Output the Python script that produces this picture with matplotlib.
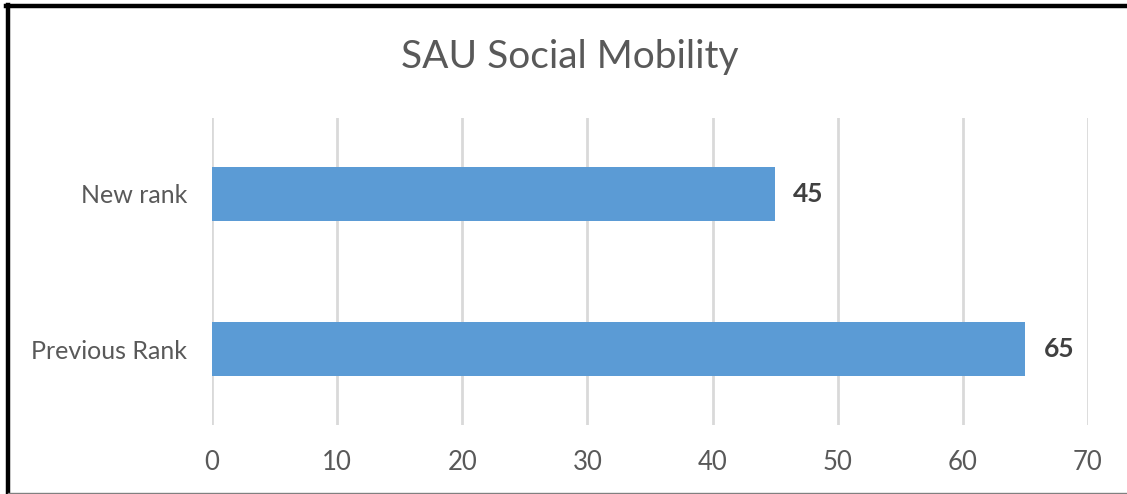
import matplotlib.pyplot as plt
from matplotlib.lines import Line2D

categories = ['Previous Rank', 'New rank']
ranks = [65, 45]
x_ticks = [0, 10, 20, 30, 40, 50, 60, 70]

plt.rcParams['font.family'] = ['Lato', 'DejaVu Sans']

W, H = 1127, 494
fig = plt.figure(figsize=(W / 100, H / 100), dpi=100)
ax = fig.add_axes([212 / W, 1 - 425 / H, (1088 - 212) / W, (425 - 118) / H])

pos = list(range(len(categories)))
bars = ax.barh(pos, ranks, height=0.354, color='#5B9BD5', zorder=3)
for b, v in zip(bars, ranks):
    ax.annotate(str(v), (b.get_width(), b.get_y() + b.get_height() / 2),
                xytext=(18, 0), textcoords='offset pixels', va='center', ha='left',
                fontsize=19, fontweight='bold', color='#404040')

ax.set_xlim(0, 70)
ax.set_ylim(-0.49, 1.49)
ax.set_xticks(x_ticks)
ax.set_yticks(pos)
ax.set_yticklabels(categories)
ax.tick_params(axis='x', length=0, pad=18, labelsize=18.5, labelcolor='#595959')
ax.tick_params(axis='y', length=0, pad=18, labelsize=18, labelcolor='#595959')
ax.grid(axis='x', color='#D9D9D9', linewidth=2, zorder=0)
for s in ax.spines.values():
    s.set_visible(False)

fig.text(570 / W, 1 - 57 / H, 'SAU Social Mobility', ha='center', va='center',
         fontsize=28, color='#595959')

# frame around the chart (cropped screenshot border)
fig.add_artist(Line2D([6 / W, 1], [1 - 6 / H, 1 - 6 / H], color='black', linewidth=3.2,
                      transform=fig.transFigure))
fig.add_artist(Line2D([8 / W, 8 / W], [1 - 5 / H, 1 - 493 / H], color='black', linewidth=3.2,
                      transform=fig.transFigure))
fig.add_artist(Line2D([8 / W, 1], [1 - 492.5 / H, 1 - 492.5 / H], color='#808080', linewidth=1,
                      transform=fig.transFigure))

fig.savefig('out.png', dpi=100)
